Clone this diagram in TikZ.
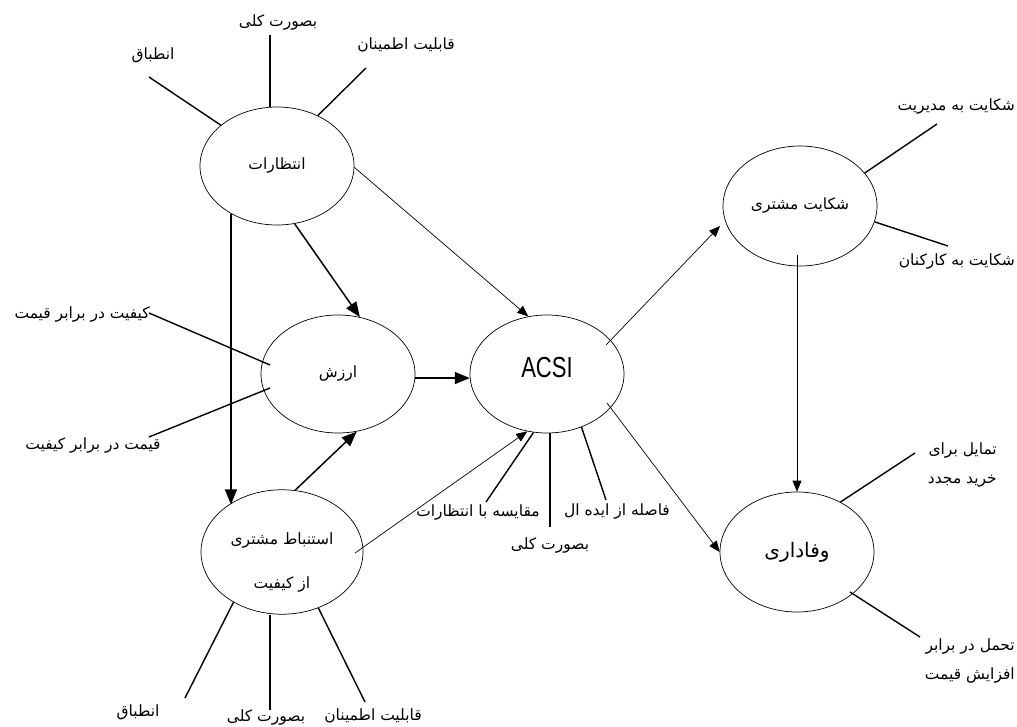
\documentclass[tikz,border=0pt]{standalone}
\usepackage{fontspec}
\usetikzlibrary{arrows.meta,shapes.geometric}
\newfontfamily\farsi[Script=Arabic]{DejaVu Sans}
\newfontfamily\latinsans{Liberation Sans}
\TeXXeTstate=1
\newcommand\fa[1]{{\farsi\beginR #1\endR}}
\begin{document}
\begin{tikzpicture}[x=1pt,y=-1pt,
  cons/.style={draw, ellipse, line width=0.7pt, inner sep=0pt, minimum width=154pt, minimum height=118pt, align=center, font=\fontsize{15.5}{44}\selectfont},
  lab/.style={inner sep=0pt, font=\fontsize{15.5}{29}\selectfont},
  ind/.style={line width=1.4pt},
  thickarrow/.style={line width=1.5pt, -{Triangle[length=15pt,width=12pt]}},
  thinarrow/.style={line width=0.7pt, -{Triangle[length=11pt,width=9pt]}}
]
\useasboundingbox (0,0) rectangle (1017,727);

% constructs
\node[cons] (E) at (277,166) {\fa{انتظارات}};
\node[cons] (V) at (338,374) {\fa{ارزش}};
\node[cons] (A) at (547,374) {\raisebox{6pt}[\height][\depth]{\latinsans\fontsize{29}{29}\selectfont\scalebox{0.76}[1]{ACSI}}};
\node[cons, minimum width=162pt] (X) at (282,552) {\raisebox{-6pt}[\height][\depth]{\begin{tabular}{@{}c@{}}\fa{استنباط مشتری}\\\fa{از کیفیت}\end{tabular}}};
\node[cons, minimum height=120pt] (C) at (800,206) {\fa{شکایت مشتری}};
\node[cons, minimum height=120pt, font=\fontsize{20}{24}\selectfont] (L) at (797,552) {\fa{وفاداری}};

% structural paths
\draw[thickarrow] (E.-73) -- (V.69);
\draw[thickarrow] (E.-134) -- (E.-134 |- X.138);
\draw[thickarrow] (X.78) -- (V.-72);
\draw[thickarrow] (V.-3) -- (A.-177);
\draw[thinarrow] (E.-1) -- (A.108);
\draw[thinarrow] ([shift={(73,1)}]X.center) -- (A.-109);
\draw[thinarrow] ([shift={(59,-29)}]A.center) -- ([shift={(-80,20)}]C.center);
\draw[thinarrow] ([shift={(60,29)}]A.center) -- (L.west);
\draw[thinarrow] ([shift={(-3,49)}]C.center) -- (L.north);

% indicator lines
\coordinate (e1) at (149,77);  \draw[ind] (e1) -- (E.144);
\coordinate (e2) at (270,35);  \draw[ind] (e2) -- (e2 |- E.north);
\coordinate (e3) at (366,68);  \draw[ind] (e3) -- (E.51);
\coordinate (v1) at (149,313); \draw[ind] (v1) -- ([shift={(-68,-9)}]V.center);
\coordinate (v2) at (149,437); \draw[ind] (v2) -- ([shift={(-68,14)}]V.center);
\coordinate (a1) at (486,502); \draw[ind] (a1) -- (A.-103);
\coordinate (a2) at (550,527); \draw[ind] (a2) -- (a2 |- A.south);
\coordinate (a3) at (606,500); \draw[ind] (a3) -- (A.-57);
\coordinate (x1) at (185,698); \draw[ind] (x1) -- (X.-134);
\coordinate (x2) at (270,710); \draw[ind] (x2) -- (x2 |- X.south);
\coordinate (x3) at (365,702); \draw[ind] (x3) -- (X.-57);
\coordinate (c1) at (937,124); \draw[ind] (c1) -- (C.27);
\coordinate (c2) at (948,246); \draw[ind] (c2) -- (C.-12);
\coordinate (l1) at (915,453); \draw[ind] (l1) -- (L.49);
\coordinate (l2) at (920,637); \draw[ind] (l2) -- ([shift={(53,40)}]L.center);

% indicator labels
\node[lab] (te1) at (153,55) {\fa{انطباق}};
\node[lab] (te2) at (278,23) {\fa{بصورت کلی}};
\node[lab] (te3) at (406,45) {\fa{قابلیت اطمینان}};
\node[lab, anchor=east] (tv1) at (150,315) {\fa{کیفیت در برابر قیمت}};
\node[lab] (tv2) at (93,446) {\fa{قیمت در برابر کیفیت}};
\node[lab] (ta1) at (478,513) {\fa{مقایسه با انتظارات}};
\node[lab] (ta2) at (550,546) {\fa{بصورت کلی}};
\node[lab] (ta3) at (617,512) {\fa{فاصله از ایده ال}};
\node[lab] (tx1) at (138,712) {\fa{انطباق}};
\node[lab] (tx2) at (266,717) {\fa{بصورت کلی}};
\node[lab] (tx3) at (373,716) {\fa{قابلیت اطمینان}};
\node[lab, anchor=east] (tc1) at (1015,107) {\fa{شکایت به مدیریت}};
\node[lab, anchor=east] (tc2) at (1015,262) {\fa{شکایت به کارکنان}};
\node[lab, align=right, anchor=east] (tl1) at (997,465) {\fa{تمایل برای}\\\fa{خرید مجدد}};
\node[lab, align=right, anchor=east] (tl2) at (1015,661) {\fa{تحمل در برابر}\\\fa{افزایش قیمت}};
\end{tikzpicture}
\end{document}
